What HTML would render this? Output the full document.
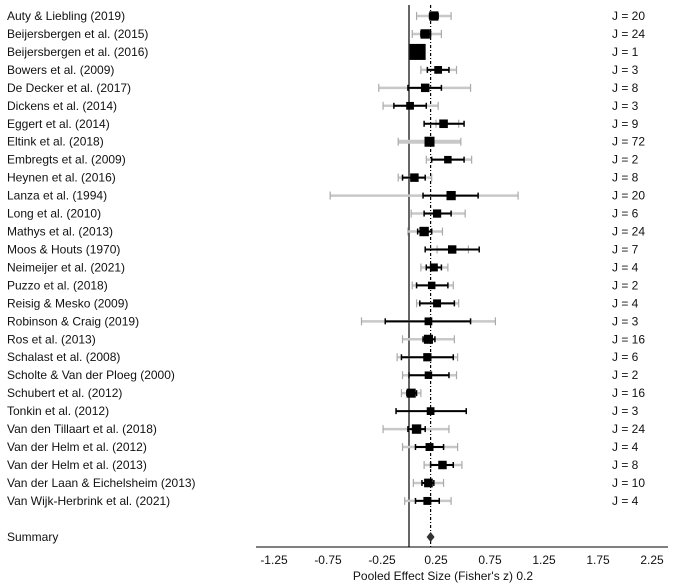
<!DOCTYPE html>
<html><head><meta charset="utf-8"><style>
html,body{margin:0;padding:0;background:#fff;}
svg{display:block;font-family:"Liberation Sans",Arial,sans-serif;}
</style></head><body>
<svg id="chart" width="674" height="587" viewBox="0 0 674 587" xmlns="http://www.w3.org/2000/svg"></svg>
<script>
const studies=["Auty & Liebling (2019)","Beijersbergen et al. (2015)","Beijersbergen et al. (2016)","Bowers et al. (2009)","De Decker et al. (2017)","Dickens et al. (2014)","Eggert et al. (2014)","Eltink et al. (2018)","Embregts et al. (2009)","Heynen et al. (2016)","Lanza et al. (1994)","Long et al. (2010)","Mathys et al. (2013)","Moos & Houts (1970)","Neimeijer et al. (2021)","Puzzo et al. (2018)","Reisig & Mesko (2009)","Robinson & Craig (2019)","Ros et al. (2013)","Schalast et al. (2008)","Scholte & Van der Ploeg (2000)","Schubert et al. (2012)","Tonkin et al. (2012)","Van den Tillaart et al. (2018)","Van der Helm et al. (2012)","Van der Helm et al. (2013)","Van der Laan & Eichelsheim (2013)","Van Wijk-Herbrink et al. (2021)"];
const effects=[0.23,0.15,0.08,0.27,0.15,0.01,0.32,0.19,0.36,0.05,0.39,0.26,0.14,0.40,0.23,0.21,0.26,0.18,0.18,0.17,0.18,0.02,0.20,0.07,0.19,0.31,0.18,0.17];
const greyLo=[0.07,0.03,null,0.11,-0.28,-0.24,0.25,-0.10,0.16,-0.10,-0.73,0.02,-0.01,0.26,0.11,0.03,0.07,-0.44,-0.06,-0.11,-0.06,-0.07,null,-0.24,-0.06,0.14,0.04,-0.04];
const greyHi=[0.39,0.30,null,0.44,0.57,0.27,0.46,0.48,0.58,0.21,1.01,0.52,0.31,0.55,0.36,0.41,0.46,0.80,0.42,0.45,0.44,0.11,null,0.37,0.45,0.49,0.32,0.39];
const blackLo=[0.19,0.11,null,0.17,-0.01,-0.14,0.14,0.17,0.21,-0.06,0.13,0.14,0.08,0.15,0.16,0.07,0.10,-0.22,0.13,-0.07,0.00,-0.02,-0.12,-0.01,0.06,0.20,0.12,0.06];
const blackHi=[0.27,0.20,null,0.37,0.30,0.16,0.51,0.21,0.51,0.15,0.64,0.39,0.21,0.65,0.30,0.36,0.42,0.57,0.24,0.41,0.37,0.07,0.53,0.15,0.32,0.41,0.23,0.28];
const jCounts=[20,24,1,3,8,3,9,72,2,8,20,6,24,7,4,2,4,3,16,6,2,16,3,24,4,8,10,4];
const pooled=0.2;
const ticks=[-1.25,-0.75,-0.25,0.25,0.75,1.25,1.75,2.25];

const X=v=>409+108*v;
const Y=i=>16+i*17.96;
const NS="http://www.w3.org/2000/svg";
const svg=document.getElementById('chart');
function mk(tag,attrs,parent){const e=document.createElementNS(NS,tag);for(const k in attrs)e.setAttribute(k,attrs[k]);(parent||svg).appendChild(e);return e;}
function jc(j){return Math.max(7,Math.min(10,6.5+Math.log(j+1)*0.9));}

let l=mk('line',{x1:X(0),x2:X(0),y1:5,y2:547,stroke:'#000','stroke-width':1.2});


l=mk('line',{x1:X(pooled),x2:X(pooled),y1:5,y2:547,stroke:'#000','stroke-width':1.2,'stroke-dasharray':'3,2,1,2'});



studies.forEach((s,i)=>{
  const y=Y(i);
  const g=mk('g',{});
  
  
  const t=mk('text',{x:7,y:y+4,'font-size':12,fill:'#111'},g);t.textContent=s;
  
  
  if(greyLo[i]!==null){
    const gl=mk('line',{x1:X(greyLo[i]),x2:X(greyHi[i]),y1:y,y2:y,stroke:'#c8c8c8','stroke-width':i===7?4:2.5},g);
    
    
    [greyLo[i],greyHi[i]].forEach(v=>{const c=mk('line',{x1:X(v),x2:X(v),y1:y-4,y2:y+4,stroke:'#aaa','stroke-width':1.2},g);});
  }
  if(blackLo[i]!==null){
    const bl=mk('line',{x1:X(blackLo[i]),x2:X(blackHi[i]),y1:y,y2:y,stroke:'#000','stroke-width':2},g);
    
    
    [blackLo[i],blackHi[i]].forEach(v=>{const c=mk('line',{x1:X(v),x2:X(v),y1:y-3,y2:y+3,stroke:'#000','stroke-width':1.5},g);});
  }
  const sz=jCounts[i]===1?16:jc(jCounts[i]);
  const r=mk('rect',{x:X(effects[i])-sz/2,y:y-sz/2,width:sz,height:sz,fill:'#000'},g);
  
  
  const jt=mk('text',{x:612,y:y+4,'font-size':12,fill:'#111'},g);jt.textContent='J = '+jCounts[i];
  
  
});

const sy=537;
let st=mk('text',{x:7,y:sy+4,'font-size':12,fill:'#111'});st.textContent='Summary';


const px=X(pooled);
let d=mk('polygon',{points:`${px-4},${sy} ${px},${sy-5} ${px+4},${sy} ${px},${sy+5}`,fill:'#333'});



let ax=mk('line',{x1:256,x2:668,y1:547,y2:547,stroke:'#000','stroke-width':1});


ticks.forEach(v=>{
  const t=mk('text',{x:X(v),y:564,'font-size':12,'text-anchor':'middle',fill:'#111'});t.textContent=v.toFixed(2);
  
  
});
let at=mk('text',{x:443,y:580,'font-size':12,'text-anchor':'middle',fill:'#111'});at.textContent="Pooled Effect Size (Fisher's z) 0.2";


</script>
</body></html>
